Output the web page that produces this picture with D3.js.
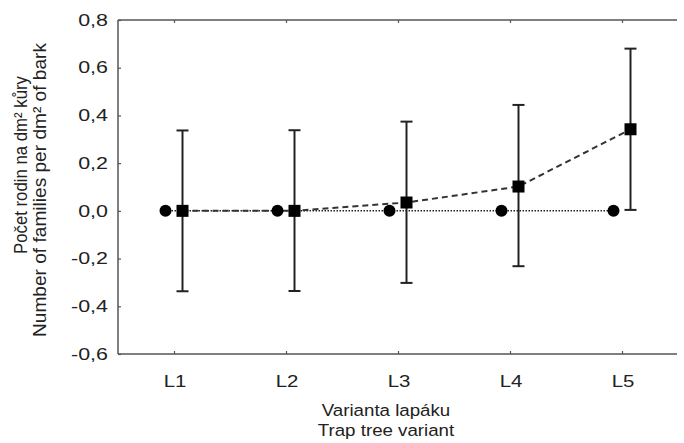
<!DOCTYPE html>
<html><head><meta charset="utf-8">
<script src="https://cdn.jsdelivr.net/npm/d3@7"></script>
<style>
body{margin:0;background:#fff;}
text{font-family:"Liberation Sans",Arial,sans-serif;fill:#222;}
</style></head>
<body>
<svg id="chart" width="684" height="443"></svg>
<script>
const categories = ["L1","L2","L3","L4","L5"];
const circleValues = [0,0,0,0,0];
const squareValues = [0,0,0.035,0.102,0.342];
const squareLower = [-0.337,-0.336,-0.302,-0.232,0.004];
const squareUpper = [0.337,0.338,0.374,0.444,0.680];
const yTicks = [-0.6,-0.4,-0.2,0,0.2,0.4,0.6,0.8];
const yTitle = ["Počet rodin na dm² kůry","Number of families per dm² of bark"];
const xTitle = ["Varianta lapáku","Trap tree variant"];

const svg = d3.select("#chart");
const mL=118, mR=678, mT=20, mB=354;
const x = d3.scalePoint().domain(categories).range([mL,mR]).padding(0.5);
const y = d3.scaleLinear().domain([-0.6,0.8]).range([mB,mT]);
const off = 8.5;
const fmt = d => d3.format(".1f")(d).replace(".",",").replace("−","-");

const axisColor = "#555";
svg.append("line").attr("x1",mL).attr("x2",mR-1).attr("y1",mT).attr("y2",mT).attr("stroke",axisColor).attr("stroke-width",1.5);
svg.append("line").attr("x1",mL).attr("x2",mR-1).attr("y1",mB).attr("y2",mB).attr("stroke",axisColor).attr("stroke-width",1.5);
svg.append("line").attr("x1",mL).attr("x2",mL).attr("y1",mT).attr("y2",mB).attr("stroke",axisColor).attr("stroke-width",1.5);

const yAxis = svg.append("g").attr("transform",`translate(${mL},0)`)
  .call(d3.axisRight(y).tickValues(yTicks).tickSize(3).tickFormat(""));
yAxis.select(".domain").remove();
yAxis.selectAll("line").attr("stroke",axisColor).attr("stroke-width",1.2);
svg.append("g").selectAll("text").data(yTicks).join("text")
  .attr("transform",d=>`translate(${mL-10},${y(d)}) scale(1.3,1)`).attr("dy","0.35em")
  .attr("text-anchor","end").attr("font-size",16.5).text(fmt);

const xAxis = svg.append("g").attr("transform",`translate(0,${mB})`)
  .call(d3.axisTop(x).tickSize(3).tickFormat(""));
xAxis.select(".domain").remove();
xAxis.selectAll("line").attr("stroke",axisColor).attr("stroke-width",1.2);
svg.append("g").selectAll("text").data(categories).join("text")
  .attr("transform",d=>`translate(${x(d)+1},387) scale(1.2,1)`).attr("text-anchor","middle").attr("font-size",17).text(d=>d);

const xTop = svg.append("g").attr("transform",`translate(0,${mT})`)
  .call(d3.axisBottom(x).tickSize(3).tickFormat(""));
xTop.select(".domain").remove();
xTop.selectAll("line").attr("stroke",axisColor).attr("stroke-width",1.2);

svg.append("g").selectAll("text").data(xTitle).join("text")
  .attr("transform",(d,i)=>`translate(${(mL+mR)/2-12},${416+i*20}) scale(1.1,1)`).attr("text-anchor","middle").attr("font-size",17).text(d=>d);
svg.append("g").selectAll("text").data(yTitle).join("text")
  .attr("transform",(d,i)=>`translate(${27+i*18.5},${[165,190][i]}) rotate(-90)`)
  .attr("text-anchor","middle").attr("font-size",17.5)
  .attr("textLength",(d,i)=>[178,294][i]).attr("lengthAdjust","spacingAndGlyphs").text(d=>d);

const circLine = d3.line().x((d,i)=>x(categories[i])-off).y(d=>y(d));
const sqLine = d3.line().x((d,i)=>x(categories[i])+off).y(d=>y(d));
svg.append("path").attr("d",circLine(circleValues)).attr("fill","none").attr("stroke","#222").attr("stroke-width",1.5).attr("stroke-dasharray","1.5,1.5");
svg.append("path").attr("d",sqLine(squareValues)).attr("fill","none").attr("stroke","#333").attr("stroke-width",2).attr("stroke-dasharray","6,4");

const eb = svg.append("g").attr("stroke","#222").attr("stroke-width",2);
categories.forEach((c,i)=>{
  const cx = x(c)+off;
  eb.append("line").attr("x1",cx).attr("x2",cx).attr("y1",y(squareLower[i])).attr("y2",y(squareUpper[i]));
  eb.append("line").attr("x1",cx-6).attr("x2",cx+6).attr("y1",y(squareLower[i])).attr("y2",y(squareLower[i]));
  eb.append("line").attr("x1",cx-6).attr("x2",cx+6).attr("y1",y(squareUpper[i])).attr("y2",y(squareUpper[i]));
});

svg.append("g").selectAll("circle").data(circleValues).join("circle")
  .attr("cx",(d,i)=>x(categories[i])-off).attr("cy",d=>y(d)).attr("r",6).attr("fill","#000");
svg.append("g").selectAll("rect").data(squareValues).join("rect")
  .attr("x",(d,i)=>x(categories[i])+off-6).attr("y",d=>y(d)-6).attr("width",12).attr("height",12).attr("fill","#000");
</script>
</body></html>
